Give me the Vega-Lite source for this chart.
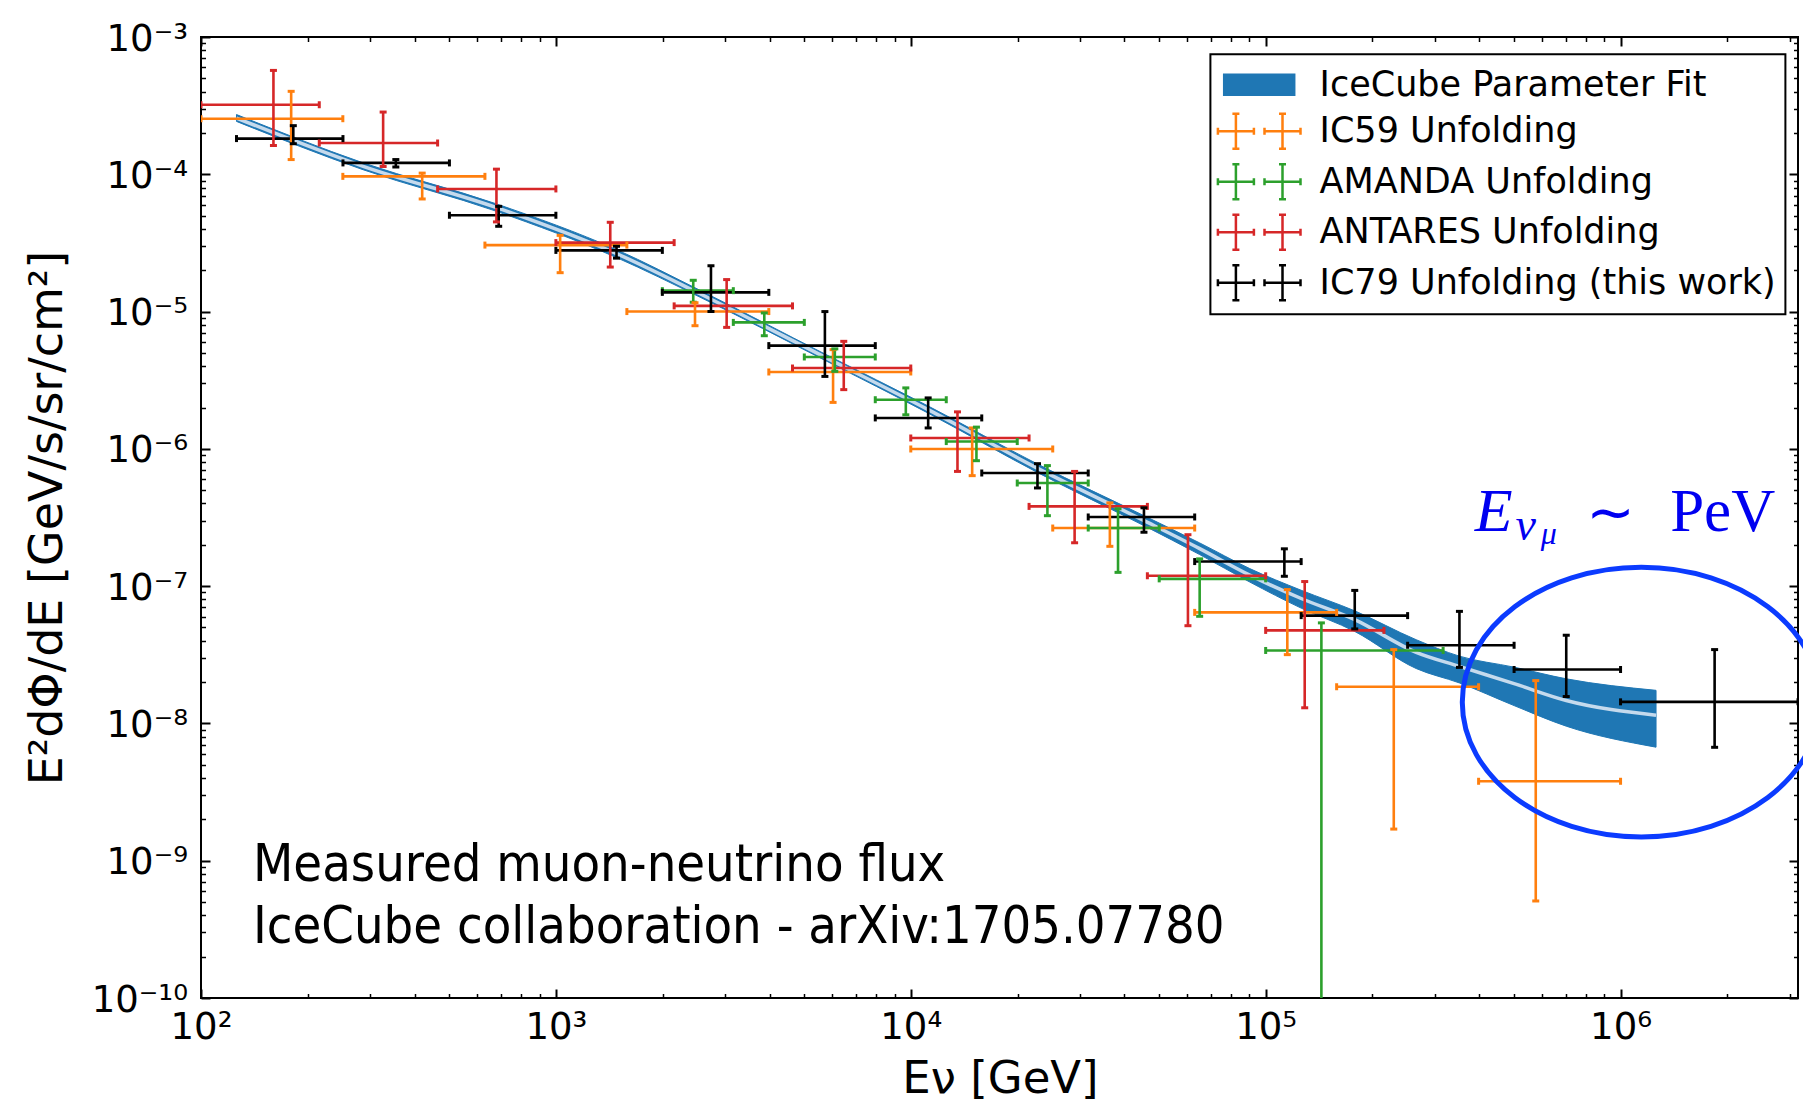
{
  "$schema": "https://vega.github.io/schema/vega-lite/v6.json",
  "width": 1597,
  "height": 961,
  "autosize": {"type": "none"},
  "padding": {"left": 201, "top": 37, "right": 5, "bottom": 106},
  "background": "white",
  "config": {
    "view": {"stroke": "black", "strokeWidth": 2},
    "axis": {"grid": false, "domain": false, "tickColor": "black", "tickWidth": 2, "labelColor": "black", "titleColor": "black"},
    "legend": {"strokeWidth": 2}
  },
  "datasets": {
    "band": [
      {"E": 125.9, "lo": 2.427e-4, "hi": 2.723e-4, "c": 2.570e-4},
      {"E": 286.4, "lo": 1.079e-4, "hi": 1.211e-4, "c": 1.143e-4},
      {"E": 680.8, "lo": 5.370e-5, "hi": 6.081e-5, "c": 5.715e-5},
      {"E": 1483, "lo": 2.472e-5, "hi": 2.825e-5, "c": 2.642e-5},
      {"E": 2547, "lo": 1.274e-5, "hi": 1.429e-5, "c": 1.349e-5},
      {"E": 5728, "lo": 4.416e-6, "hi": 4.909e-6, "c": 4.656e-6},
      {"E": 11194, "lo": 1.820e-6, "hi": 2.051e-6, "c": 1.932e-6},
      {"E": 22856, "lo": 6.683e-7, "hi": 7.709e-7, "c": 7.178e-7},
      {"E": 45604, "lo": 2.742e-7, "hi": 3.243e-7, "c": 2.985e-7},
      {"E": 65163, "lo": 1.698e-7, "hi": 2.065e-7, "c": 1.875e-7},
      {"E": 90157, "lo": 1.072e-7, "hi": 1.343e-7, "c": 1.202e-7},
      {"E": 125893, "lo": 6.918e-8, "hi": 9.333e-8, "c": 8.128e-8},
      {"E": 178238, "lo": 4.677e-8, "hi": 6.607e-8, "c": 5.702e-8},
      {"E": 265461, "lo": 2.512e-8, "hi": 4.074e-8, "c": 3.296e-8},
      {"E": 351560, "lo": 1.972e-8, "hi": 3.090e-8, "c": 2.606e-8},
      {"E": 501187, "lo": 1.349e-8, "hi": 2.570e-8, "c": 1.950e-8},
      {"E": 703072, "lo": 9.550e-9, "hi": 2.113e-8, "c": 1.469e-8},
      {"E": 1258925, "lo": 6.714e-9, "hi": 1.742e-8, "c": 1.148e-8}
    ],
    "pts": [
      {"s": "IC59 Unfolding", "E": 179.5, "Elo": 100, "Ehi": 251, "F": 2.54e-4, "Flo": 1.28e-4, "Fhi": 4.02e-4},
      {"s": "IC59 Unfolding", "E": 420, "Elo": 251, "Ehi": 631, "F": 9.66e-5, "Flo": 6.61e-5, "Fhi": 1.02e-4},
      {"s": "IC59 Unfolding", "E": 1028, "Elo": 631, "Ehi": 1585, "F": 3.05e-5, "Flo": 1.92e-5, "Fhi": 3.59e-5},
      {"s": "IC59 Unfolding", "E": 2466, "Elo": 1585, "Ehi": 3981, "F": 1.0e-5, "Flo": 7.89e-6, "Fhi": 1.16e-5},
      {"s": "IC59 Unfolding", "E": 6040, "Elo": 3981, "Ehi": 10000, "F": 3.63e-6, "Flo": 2.18e-6, "Fhi": 5.28e-6},
      {"s": "IC59 Unfolding", "E": 14894, "Elo": 10000, "Ehi": 25119, "F": 9.98e-7, "Flo": 6.38e-7, "Fhi": 1.42e-6},
      {"s": "IC59 Unfolding", "E": 36390, "Elo": 25119, "Ehi": 63096, "F": 2.65e-7, "Flo": 1.95e-7, "Fhi": 4.04e-7},
      {"s": "IC59 Unfolding", "E": 115080, "Elo": 63096, "Ehi": 158489, "F": 6.44e-8, "Flo": 3.17e-8, "Fhi": 9.44e-8},
      {"s": "IC59 Unfolding", "E": 229600, "Elo": 158489, "Ehi": 398107, "F": 1.85e-8, "Flo": 1.70e-9, "Fhi": 3.45e-8},
      {"s": "IC59 Unfolding", "E": 576800, "Elo": 398107, "Ehi": 1000000, "F": 3.79e-9, "Flo": 5.09e-10, "Fhi": 2.05e-8},
      {"s": "AMANDA Unfolding", "E": 2438, "Elo": 1995, "Ehi": 3162, "F": 1.42e-5, "Flo": 1.17e-5, "Fhi": 1.69e-5},
      {"s": "AMANDA Unfolding", "E": 3866, "Elo": 3162, "Ehi": 5012, "F": 8.34e-6, "Flo": 6.67e-6, "Fhi": 9.77e-6},
      {"s": "AMANDA Unfolding", "E": 6109, "Elo": 5012, "Ehi": 7943, "F": 4.67e-6, "Flo": 3.67e-6, "Fhi": 5.35e-6},
      {"s": "AMANDA Unfolding", "E": 9683, "Elo": 7943, "Ehi": 12589, "F": 2.28e-6, "Flo": 1.77e-6, "Fhi": 2.78e-6},
      {"s": "AMANDA Unfolding", "E": 15311, "Elo": 12589, "Ehi": 19953, "F": 1.13e-6, "Flo": 8.2e-7, "Fhi": 1.44e-6},
      {"s": "AMANDA Unfolding", "E": 24266, "Elo": 19953, "Ehi": 31623, "F": 5.64e-7, "Flo": 3.26e-7, "Fhi": 7.55e-7},
      {"s": "AMANDA Unfolding", "E": 38370, "Elo": 31623, "Ehi": 50119, "F": 2.65e-7, "Flo": 1.26e-7, "Fhi": 3.66e-7},
      {"s": "AMANDA Unfolding", "E": 65163, "Elo": 50119, "Ehi": 100000, "F": 1.13e-7, "Flo": 6.03e-8, "Fhi": 1.58e-7},
      {"s": "AMANDA Unfolding", "E": 143549, "Elo": 100000, "Ehi": 316228, "F": 3.40e-8, "Flo": 1e-11, "Fhi": 5.40e-8},
      {"s": "ANTARES Unfolding", "E": 160, "Elo": 100, "Ehi": 215.4, "F": 3.21e-4, "Flo": 1.62e-4, "Fhi": 5.71e-4},
      {"s": "ANTARES Unfolding", "E": 326, "Elo": 215.4, "Ehi": 464.2, "F": 1.69e-4, "Flo": 1.14e-4, "Fhi": 2.84e-4},
      {"s": "ANTARES Unfolding", "E": 680, "Elo": 464.2, "Ehi": 1000, "F": 7.82e-5, "Flo": 4.5e-5, "Fhi": 1.09e-4},
      {"s": "ANTARES Unfolding", "E": 1423, "Elo": 1000, "Ehi": 2154, "F": 3.18e-5, "Flo": 2.11e-5, "Fhi": 4.47e-5},
      {"s": "ANTARES Unfolding", "E": 3028, "Elo": 2154, "Ehi": 4642, "F": 1.10e-5, "Flo": 7.67e-6, "Fhi": 1.71e-5},
      {"s": "ANTARES Unfolding", "E": 6474, "Elo": 4642, "Ehi": 10000, "F": 3.88e-6, "Flo": 2.70e-6, "Fhi": 6.07e-6},
      {"s": "ANTARES Unfolding", "E": 13539, "Elo": 10000, "Ehi": 21544, "F": 1.20e-6, "Flo": 6.85e-7, "Fhi": 1.86e-6},
      {"s": "ANTARES Unfolding", "E": 28950, "Elo": 21544, "Ehi": 46416, "F": 3.81e-7, "Flo": 2.07e-7, "Fhi": 6.85e-7},
      {"s": "ANTARES Unfolding", "E": 60395, "Elo": 46416, "Ehi": 100000, "F": 1.19e-7, "Flo": 5.15e-8, "Fhi": 2.37e-7},
      {"s": "ANTARES Unfolding", "E": 128825, "Elo": 100000, "Ehi": 215443, "F": 4.76e-8, "Flo": 1.30e-8, "Fhi": 1.08e-7},
      {"s": "IC79 Unfolding (this work)", "E": 182, "Elo": 125.9, "Ehi": 251.2, "F": 1.82e-4, "Flo": 1.67e-4, "Fhi": 2.26e-4},
      {"s": "IC79 Unfolding (this work)", "E": 354, "Elo": 251.2, "Ehi": 501.2, "F": 1.21e-4, "Flo": 1.13e-4, "Fhi": 1.28e-4},
      {"s": "IC79 Unfolding (this work)", "E": 690, "Elo": 501.2, "Ehi": 1000, "F": 5.03e-5, "Flo": 4.18e-5, "Fhi": 5.84e-5},
      {"s": "IC79 Unfolding (this work)", "E": 1482, "Elo": 1000, "Ehi": 1995, "F": 2.79e-5, "Flo": 2.45e-5, "Fhi": 2.99e-5},
      {"s": "IC79 Unfolding (this work)", "E": 2735, "Elo": 1995, "Ehi": 3981, "F": 1.38e-5, "Flo": 1.0e-5, "Fhi": 2.16e-5},
      {"s": "IC79 Unfolding (this work)", "E": 5728, "Elo": 3981, "Ehi": 7943, "F": 5.65e-6, "Flo": 3.37e-6, "Fhi": 1.0e-5},
      {"s": "IC79 Unfolding (this work)", "E": 11194, "Elo": 7943, "Ehi": 15849, "F": 1.68e-6, "Flo": 1.42e-6, "Fhi": 2.35e-6},
      {"s": "IC79 Unfolding (this work)", "E": 22751, "Elo": 15849, "Ehi": 31623, "F": 6.67e-7, "Flo": 5.19e-7, "Fhi": 7.8e-7},
      {"s": "IC79 Unfolding (this work)", "E": 45400, "Elo": 31623, "Ehi": 63096, "F": 3.19e-7, "Flo": 2.47e-7, "Fhi": 3.72e-7},
      {"s": "IC79 Unfolding (this work)", "E": 112898, "Elo": 63096, "Ehi": 125893, "F": 1.51e-7, "Flo": 1.18e-7, "Fhi": 1.87e-7},
      {"s": "IC79 Unfolding (this work)", "E": 178238, "Elo": 125893, "Ehi": 251189, "F": 6.10e-8, "Flo": 4.88e-8, "Fhi": 9.31e-8},
      {"s": "IC79 Unfolding (this work)", "E": 351560, "Elo": 251189, "Ehi": 501187, "F": 3.71e-8, "Flo": 2.56e-8, "Fhi": 6.55e-8},
      {"s": "IC79 Unfolding (this work)", "E": 703000, "Elo": 501187, "Ehi": 1000000, "F": 2.47e-8, "Flo": 1.57e-8, "Fhi": 4.39e-8},
      {"s": "IC79 Unfolding (this work)", "E": 1841000, "Elo": 1000000, "Ehi": 3162278, "F": 1.436e-8, "Flo": 6.70e-9, "Fhi": 3.45e-8}
    ]
  },
  "layer": [
    {
      "data": {"name": "band"},
      "mark": {"type": "area", "color": "#1f77b4", "stroke": "#1f77b4", "strokeWidth": 1, "opacity": 1, "interpolate": "monotone"},
      "encoding": {
        "x": {"field": "E", "type": "quantitative", "scale": {"type": "log", "domain": [100, 3162278], "nice": false},
          "axis": {"orient": "bottom", "values": [100, 1000, 10000, 100000, 1000000], "labelExpr": "['10²','10³','10⁴','10⁵','10⁶'][round(log(datum.value)/LN10)-2]", "ticks": false, "labelFont": "DejaVu Sans", "labelFontSize": 37, "labelPadding": 11.4, "labelBaseline": "top", "labelAlign": "center", "labelFlush": false, "labelOverlap": false, "labelBound": false, "title": "Eν [GeV]", "titleFont": "DejaVu Sans", "titleFontSize": 45, "titleFontWeight": "normal", "titleX": 799, "titleY": 94, "titleBaseline": "alphabetic", "titleAlign": "center", "titleAngle": 0}},
        "y": {"field": "lo", "type": "quantitative", "scale": {"type": "log", "domain": [1e-10, 0.001], "nice": false},
          "axis": {"orient": "left", "values": [1e-10, 1e-9, 1e-8, 1e-7, 1e-6, 1e-5, 1e-4, 1e-3], "labelExpr": "['10⁻¹⁰','10⁻⁹','10⁻⁸','10⁻⁷','10⁻⁶','10⁻⁵','10⁻⁴','10⁻³'][round(log(datum.value)/LN10)+10]", "ticks": false, "labelFont": "DejaVu Sans", "labelFontSize": 37, "labelPadding": 13.5, "labelAlign": "right", "labelBaseline": "middle", "labelOffset": 2, "labelFlush": false, "labelOverlap": false, "labelBound": false, "title": "E²dΦ/dE  [GeV/s/sr/cm²]", "titleFont": "DejaVu Sans", "titleFontSize": 46, "titleFontWeight": "normal", "titleAngle": 270, "titleX": -140, "titleY": 480.5, "titleBaseline": "alphabetic", "titleAlign": "center"}},
        "y2": {"field": "hi"}
      }
    },
    {
      "data": {"name": "band"},
      "mark": {"type": "line", "color": "#c5daed", "strokeWidth": 3.5, "interpolate": "monotone"},
      "encoding": {
        "x": {"field": "E", "type": "quantitative", "scale": {"type": "log", "domain": [100, 3162278], "nice": false},
          "axis": {"orient": "bottom", "values": [100, 1000, 10000, 100000, 1000000], "labels": false, "ticks": true, "tickSize": -9, "tickWidth": 2, "title": null}},
        "y": {"field": "c", "type": "quantitative", "scale": {"type": "log", "domain": [1e-10, 0.001], "nice": false},
          "axis": {"orient": "left", "values": [1e-10, 1e-9, 1e-8, 1e-7, 1e-6, 1e-5, 1e-4, 1e-3], "labels": false, "ticks": true, "tickSize": -9, "tickWidth": 2, "title": null}}
      }
    },
    {
      "data": {"name": "pts"},
      "mark": {"type": "rule", "strokeWidth": 2.6, "clip": true},
      "encoding": {
        "x": {"field": "Elo", "type": "quantitative", "scale": {"type": "log", "domain": [100, 3162278], "nice": false},
          "axis": {"orient": "top", "values": [100, 1000, 10000, 100000, 1000000], "labels": false, "ticks": true, "tickSize": -9, "tickWidth": 2, "title": null}},
        "x2": {"field": "Ehi"},
        "y": {"field": "F", "type": "quantitative", "scale": {"type": "log", "domain": [1e-10, 0.001], "nice": false},
          "axis": {"orient": "right", "values": [1e-10, 1e-9, 1e-8, 1e-7, 1e-6, 1e-5, 1e-4, 1e-3], "labels": false, "ticks": true, "tickSize": -9, "tickWidth": 2, "title": null}},
        "color": {"field": "s", "type": "nominal", "scale": {"domain": ["IC59 Unfolding", "AMANDA Unfolding", "ANTARES Unfolding", "IC79 Unfolding (this work)"], "range": ["#ff7f0e", "#2ca02c", "#d62728", "#000000"]}, "legend": null}
      }
    },
    {
      "data": {"name": "pts"},
      "mark": {"type": "rule", "strokeWidth": 2.6, "clip": true},
      "encoding": {
        "x": {"field": "E", "type": "quantitative", "scale": {"type": "log", "domain": [100, 3162278], "nice": false},
          "axis": {"orient": "bottom", "values": [200,300,400,500,600,700,800,900,2000,3000,4000,5000,6000,7000,8000,9000,20000,30000,40000,50000,60000,70000,80000,90000,200000,300000,400000,500000,600000,700000,800000,900000,2000000,3000000], "labels": false, "ticks": true, "tickSize": -4.5, "tickWidth": 1.5, "title": null}},
        "y": {"field": "Flo", "type": "quantitative", "scale": {"type": "log", "domain": [1e-10, 0.001], "nice": false},
          "axis": {"orient": "left", "values": [2e-10,3e-10,4e-10,5e-10,6e-10,7e-10,8e-10,9e-10,2e-9,3e-9,4e-9,5e-9,6e-9,7e-9,8e-9,9e-9,2e-8,3e-8,4e-8,5e-8,6e-8,7e-8,8e-8,9e-8,2e-7,3e-7,4e-7,5e-7,6e-7,7e-7,8e-7,9e-7,2e-6,3e-6,4e-6,5e-6,6e-6,7e-6,8e-6,9e-6,2e-5,3e-5,4e-5,5e-5,6e-5,7e-5,8e-5,9e-5,2e-4,3e-4,4e-4,5e-4,6e-4,7e-4,8e-4,9e-4], "labels": false, "ticks": true, "tickSize": -4.5, "tickWidth": 1.5, "title": null}},
        "y2": {"field": "Fhi"},
        "color": {"field": "s", "type": "nominal", "scale": {"domain": ["IC59 Unfolding", "AMANDA Unfolding", "ANTARES Unfolding", "IC79 Unfolding (this work)"], "range": ["#ff7f0e", "#2ca02c", "#d62728", "#000000"]}, "legend": null}
      }
    },
    {
      "data": {"name": "pts"},
      "mark": {"type": "tick", "orient": "vertical", "size": 7, "thickness": 3, "opacity": 1, "clip": true},
      "encoding": {
        "x": {"field": "Elo", "type": "quantitative", "scale": {"type": "log", "domain": [100, 3162278], "nice": false},
          "axis": {"orient": "top", "values": [200,300,400,500,600,700,800,900,2000,3000,4000,5000,6000,7000,8000,9000,20000,30000,40000,50000,60000,70000,80000,90000,200000,300000,400000,500000,600000,700000,800000,900000,2000000,3000000], "labels": false, "ticks": true, "tickSize": -4.5, "tickWidth": 1.5, "title": null}},
        "y": {"field": "F", "type": "quantitative", "scale": {"type": "log", "domain": [1e-10, 0.001], "nice": false},
          "axis": {"orient": "right", "values": [2e-10,3e-10,4e-10,5e-10,6e-10,7e-10,8e-10,9e-10,2e-9,3e-9,4e-9,5e-9,6e-9,7e-9,8e-9,9e-9,2e-8,3e-8,4e-8,5e-8,6e-8,7e-8,8e-8,9e-8,2e-7,3e-7,4e-7,5e-7,6e-7,7e-7,8e-7,9e-7,2e-6,3e-6,4e-6,5e-6,6e-6,7e-6,8e-6,9e-6,2e-5,3e-5,4e-5,5e-5,6e-5,7e-5,8e-5,9e-5,2e-4,3e-4,4e-4,5e-4,6e-4,7e-4,8e-4,9e-4], "labels": false, "ticks": true, "tickSize": -4.5, "tickWidth": 1.5, "title": null}},
        "color": {"field": "s", "type": "nominal", "scale": {"domain": ["IC59 Unfolding", "AMANDA Unfolding", "ANTARES Unfolding", "IC79 Unfolding (this work)"], "range": ["#ff7f0e", "#2ca02c", "#d62728", "#000000"]}, "legend": null}
      }
    },
    {
      "data": {"name": "pts"},
      "mark": {"type": "tick", "orient": "vertical", "size": 7, "thickness": 3, "opacity": 1, "clip": true},
      "encoding": {
        "x": {"field": "Ehi", "type": "quantitative", "scale": {"type": "log", "domain": [100, 3162278], "nice": false}, "axis": null},
        "y": {"field": "F", "type": "quantitative", "scale": {"type": "log", "domain": [1e-10, 0.001], "nice": false}, "axis": null},
        "color": {"field": "s", "type": "nominal", "scale": {"domain": ["IC59 Unfolding", "AMANDA Unfolding", "ANTARES Unfolding", "IC79 Unfolding (this work)"], "range": ["#ff7f0e", "#2ca02c", "#d62728", "#000000"]}, "legend": null}
      }
    },
    {
      "data": {"name": "pts"},
      "mark": {"type": "tick", "orient": "horizontal", "size": 7, "thickness": 3, "opacity": 1, "clip": true},
      "encoding": {
        "x": {"field": "E", "type": "quantitative", "scale": {"type": "log", "domain": [100, 3162278], "nice": false}, "axis": null},
        "y": {"field": "Flo", "type": "quantitative", "scale": {"type": "log", "domain": [1e-10, 0.001], "nice": false}, "axis": null},
        "color": {"field": "s", "type": "nominal", "scale": {"domain": ["IC59 Unfolding", "AMANDA Unfolding", "ANTARES Unfolding", "IC79 Unfolding (this work)"], "range": ["#ff7f0e", "#2ca02c", "#d62728", "#000000"]}, "legend": null}
      }
    },
    {
      "data": {"name": "pts"},
      "mark": {"type": "tick", "orient": "horizontal", "size": 7, "thickness": 3, "opacity": 1, "clip": true},
      "encoding": {
        "x": {"field": "E", "type": "quantitative", "scale": {"type": "log", "domain": [100, 3162278], "nice": false}, "axis": null},
        "y": {"field": "Fhi", "type": "quantitative", "scale": {"type": "log", "domain": [1e-10, 0.001], "nice": false}, "axis": null},
        "color": {"field": "s", "type": "nominal", "scale": {"domain": ["IC59 Unfolding", "AMANDA Unfolding", "ANTARES Unfolding", "IC79 Unfolding (this work)"], "range": ["#ff7f0e", "#2ca02c", "#d62728", "#000000"]}, "legend": null}
      }
    },
    {
      "data": {"name": "pts"},
      "mark": {"type": "point", "size": 0, "opacity": 1, "strokeWidth": 2.5, "filled": false},
      "encoding": {
        "x": {"field": "E", "type": "quantitative", "scale": {"type": "log", "domain": [100, 3162278], "nice": false}, "axis": null},
        "y": {"field": "F", "type": "quantitative", "scale": {"type": "log", "domain": [1e-10, 0.001], "nice": false}, "axis": null},
        "fill": {"field": "s", "type": "nominal",
          "scale": {"domain": ["IceCube Parameter Fit", "IC59 Unfolding", "AMANDA Unfolding", "ANTARES Unfolding", "IC79 Unfolding (this work)"], "range": ["#1f77b4", "#ff7f0e", "#2ca02c", "#d62728", "#000000"]},
          "legend": {"orient": "none", "legendX": 1009.4, "legendY": 17.2, "title": null, "padding": 9, "strokeColor": "black", "fillColor": "white", "cornerRadius": 0, "symbolSize": 1600, "symbolStrokeWidth": 2.5, "symbolOffset": 18.3, "labelOffset": 38.9, "labelFont": "DejaVu Sans", "labelFontSize": 35, "labelColor": "black", "labelLimit": 1000, "rowPadding": 5.5, "labelBaseline": "middle"}},
        "stroke": {"field": "s", "type": "nominal",
          "scale": {"domain": ["IceCube Parameter Fit", "IC59 Unfolding", "AMANDA Unfolding", "ANTARES Unfolding", "IC79 Unfolding (this work)"], "range": ["#1f77b4", "#ff7f0e", "#2ca02c", "#d62728", "#000000"]},
          "legend": {"orient": "none", "legendX": 1009.4, "legendY": 17.2, "title": null, "padding": 9, "strokeColor": "black", "fillColor": "white", "cornerRadius": 0, "symbolSize": 1600, "symbolStrokeWidth": 2.5, "symbolOffset": 18.3, "labelOffset": 38.9, "labelFont": "DejaVu Sans", "labelFontSize": 35, "labelColor": "black", "labelLimit": 1000, "rowPadding": 5.5, "labelBaseline": "middle"}},
        "shape": {"field": "s", "type": "nominal",
          "scale": {"domain": ["IceCube Parameter Fit", "IC59 Unfolding", "AMANDA Unfolding", "ANTARES Unfolding", "IC79 Unfolding (this work)"],
            "range": [
              "M -1.75 -0.5 L 1.75 -0.5 L 1.75 0.5 L -1.75 0.5 Z",
              "M -2.065 0 L -0.265 0 M -1.165 -0.875 L -1.165 0.875 M -2.065 -0.175 L -2.065 0.175 M -0.265 -0.175 L -0.265 0.175 M -1.34 -0.875 L -0.99 -0.875 M -1.34 0.875 L -0.99 0.875 M 0.265 0 L 2.065 0 M 1.165 -0.875 L 1.165 0.875 M 0.265 -0.175 L 0.265 0.175 M 2.065 -0.175 L 2.065 0.175 M 0.99 -0.875 L 1.34 -0.875 M 0.99 0.875 L 1.34 0.875",
              "M -2.065 0 L -0.265 0 M -1.165 -0.875 L -1.165 0.875 M -2.065 -0.175 L -2.065 0.175 M -0.265 -0.175 L -0.265 0.175 M -1.34 -0.875 L -0.99 -0.875 M -1.34 0.875 L -0.99 0.875 M 0.265 0 L 2.065 0 M 1.165 -0.875 L 1.165 0.875 M 0.265 -0.175 L 0.265 0.175 M 2.065 -0.175 L 2.065 0.175 M 0.99 -0.875 L 1.34 -0.875 M 0.99 0.875 L 1.34 0.875",
              "M -2.065 0 L -0.265 0 M -1.165 -0.875 L -1.165 0.875 M -2.065 -0.175 L -2.065 0.175 M -0.265 -0.175 L -0.265 0.175 M -1.34 -0.875 L -0.99 -0.875 M -1.34 0.875 L -0.99 0.875 M 0.265 0 L 2.065 0 M 1.165 -0.875 L 1.165 0.875 M 0.265 -0.175 L 0.265 0.175 M 2.065 -0.175 L 2.065 0.175 M 0.99 -0.875 L 1.34 -0.875 M 0.99 0.875 L 1.34 0.875",
              "M -2.065 0 L -0.265 0 M -1.165 -0.875 L -1.165 0.875 M -2.065 -0.175 L -2.065 0.175 M -0.265 -0.175 L -0.265 0.175 M -1.34 -0.875 L -0.99 -0.875 M -1.34 0.875 L -0.99 0.875 M 0.265 0 L 2.065 0 M 1.165 -0.875 L 1.165 0.875 M 0.265 -0.175 L 0.265 0.175 M 2.065 -0.175 L 2.065 0.175 M 0.99 -0.875 L 1.34 -0.875 M 0.99 0.875 L 1.34 0.875"
            ]},
          "legend": {"orient": "none", "legendX": 1009.4, "legendY": 17.2, "title": null, "padding": 9, "strokeColor": "black", "fillColor": "white", "cornerRadius": 0, "symbolSize": 1600, "symbolStrokeWidth": 2.5, "symbolOffset": 18.3, "labelOffset": 38.9, "labelFont": "DejaVu Sans", "labelFontSize": 35, "labelColor": "black", "labelLimit": 1000, "rowPadding": 5.5, "labelBaseline": "middle"}}
      }
    },
    {
      "data": {"values": [{}]},
      "mark": {"type": "point", "shape": "M -1 0 C -1 -0.4159 -0.5523 -0.753 0 -0.753 C 0.5523 -0.753 1 -0.4159 1 0 C 1 0.4159 0.5523 0.753 0 0.753 C -0.5523 0.753 -1 0.4159 -1 0 Z", "size": 128164, "filled": false, "stroke": "#0b3bff", "strokeWidth": 5, "opacity": 1},
      "encoding": {
        "x": {"datum": 1144000, "type": "quantitative", "scale": {"type": "log", "domain": [100, 3162278], "nice": false}, "axis": null},
        "y": {"datum": 1.429e-8, "type": "quantitative", "scale": {"type": "log", "domain": [1e-10, 0.001], "nice": false}, "axis": null}
      }
    },
    {
      "data": {"values": [{}]},
      "mark": {"type": "text", "text": ["Measured muon-neutrino flux", "IceCube collaboration - arXiv:1705.07780"], "font": "DejaVu Sans Condensed", "fontSize": 52, "lineHeight": 61.6, "align": "left", "baseline": "alphabetic", "color": "black"},
      "encoding": {
        "x": {"datum": 140.1, "type": "quantitative", "scale": {"type": "log", "domain": [100, 3162278], "nice": false}, "axis": null},
        "y": {"datum": 7.11e-10, "type": "quantitative", "scale": {"type": "log", "domain": [1e-10, 0.001], "nice": false}, "axis": null}
      }
    },
    {
      "data": {"values": [{}]},
      "mark": {"type": "text", "text": "E", "font": "Liberation Serif", "fontStyle": "italic", "fontSize": 62, "align": "left", "baseline": "alphabetic", "color": "#0000f0"},
      "encoding": {
        "x": {"datum": 388000, "type": "quantitative", "scale": {"type": "log", "domain": [100, 3162278], "nice": false}, "axis": null},
        "y": {"datum": 2.506e-7, "type": "quantitative", "scale": {"type": "log", "domain": [1e-10, 0.001], "nice": false}, "axis": null}
      }
    },
    {
      "data": {"values": [{}]},
      "mark": {"type": "text", "text": "ν", "font": "Liberation Serif", "fontStyle": "italic", "fontSize": 46, "align": "left", "baseline": "alphabetic", "color": "#0000f0"},
      "encoding": {
        "x": {"datum": 505800, "type": "quantitative", "scale": {"type": "log", "domain": [100, 3162278], "nice": false}, "axis": null},
        "y": {"datum": 2.178e-7, "type": "quantitative", "scale": {"type": "log", "domain": [1e-10, 0.001], "nice": false}, "axis": null}
      }
    },
    {
      "data": {"values": [{}]},
      "mark": {"type": "text", "text": "μ", "font": "Liberation Serif", "fontStyle": "italic", "fontSize": 32, "align": "left", "baseline": "alphabetic", "color": "#0000f0"},
      "encoding": {
        "x": {"datum": 596000, "type": "quantitative", "scale": {"type": "log", "domain": [100, 3162278], "nice": false}, "axis": null},
        "y": {"datum": 2.04e-7, "type": "quantitative", "scale": {"type": "log", "domain": [1e-10, 0.001], "nice": false}, "axis": null}
      }
    },
    {
      "data": {"values": [{}]},
      "mark": {"type": "text", "text": "∼", "font": "DejaVu Sans", "fontSize": 58, "align": "left", "baseline": "alphabetic", "color": "#0000f0"},
      "encoding": {
        "x": {"datum": 800000, "type": "quantitative", "scale": {"type": "log", "domain": [100, 3162278], "nice": false}, "axis": null},
        "y": {"datum": 2.5e-7, "type": "quantitative", "scale": {"type": "log", "domain": [1e-10, 0.001], "nice": false}, "axis": null}
      }
    },
    {
      "data": {"values": [{}]},
      "mark": {"type": "text", "text": "PeV", "font": "Liberation Serif", "fontSize": 61, "align": "left", "baseline": "alphabetic", "color": "#0000f0"},
      "encoding": {
        "x": {"datum": 1380000, "type": "quantitative", "scale": {"type": "log", "domain": [100, 3162278], "nice": false}, "axis": null},
        "y": {"datum": 2.506e-7, "type": "quantitative", "scale": {"type": "log", "domain": [1e-10, 0.001], "nice": false}, "axis": null}
      }
    }
  ],
  "resolve": {"axis": {"x": "independent", "y": "independent"}}
}
